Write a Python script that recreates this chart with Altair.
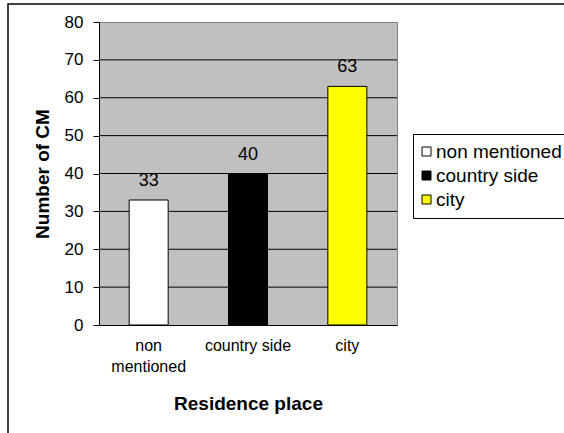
import altair as alt
import pandas as pd

categories = ["non mentioned", "country side", "city"]
counts = [33, 40, 63]
bar_colors = ["#FFFFFF", "#000000", "#FFFF00"]
y_ticks = [0, 10, 20, 30, 40, 50, 60, 70, 80]
grid_values = [10, 20, 30, 40, 50, 60, 70]

df = pd.DataFrame({"place": categories, "count": counts})
grid_df = pd.DataFrame({"v": grid_values})

FONT = "Liberation Sans"

y_scale = alt.Scale(domain=[0, 80], nice=False, zero=True)
y_axis = alt.Axis(
    title="Number of CM", values=y_ticks, grid=False, tickSize=6,
    tickColor="black", domainColor="black", labelFontSize=17, labelPadding=10,
    titleFontSize=19, titleFontWeight="bold", titleX=-57, titleY=151.5,
    titleBaseline="middle", labelColor="black", titleColor="black",
)
x_axis = alt.Axis(
    title="Residence place", labelAngle=0, ticks=False, domainColor="black",
    labelFontSize=16, labelPadding=12, labelLineHeight=21, labelBaseline="top",
    labelExpr="datum.value == 'non mentioned' ? ['non', 'mentioned'] : datum.value",
    titleFontSize=19, titleFontWeight="bold", titleY=78, titleBaseline="middle",
    grid=False, labelColor="black", titleColor="black",
)
x_enc = alt.X("place:N", sort=categories,
              scale=alt.Scale(paddingInner=0, paddingOuter=0), axis=x_axis)

grid = alt.Chart(grid_df).mark_rule(color="black", strokeWidth=1).encode(
    y=alt.Y("v:Q", scale=y_scale, axis=y_axis)
)

bars = alt.Chart(df).mark_bar(size=39, stroke="black", strokeWidth=1).encode(
    x=x_enc,
    y=alt.Y("count:Q", scale=y_scale, axis=y_axis),
    color=alt.Color(
        "place:N", sort=categories,
        scale=alt.Scale(domain=categories, range=bar_colors),
        legend=alt.Legend(
            title=None, orient="none", legendX=314, legendY=112,
            symbolType="square", symbolSize=81, symbolStrokeColor="black",
            symbolStrokeWidth=1, labelFontSize=19, labelFont=FONT,
            labelColor="black", strokeColor="black", fillColor="white",
            padding=8, rowPadding=4, labelOffset=0, symbolOffset=-4,
            cornerRadius=0,
        ),
    ),
)

labels = alt.Chart(df).mark_text(
    dy=-14, fontSize=18, baseline="alphabetic", font=FONT, color="black"
).encode(
    x=x_enc,
    y=alt.Y("count:Q", scale=y_scale, axis=y_axis),
    text="count:Q",
)

frame = alt.Chart(alt.Data(values=[{}])).mark_rect(
    filled=False, stroke="black", strokeWidth=1.5
).encode(
    x=alt.value(-91), x2=alt.value(700), y=alt.value(-18), y2=alt.value(600)
)

chart = alt.layer(grid, bars, labels, frame).properties(
    width=298, height=303,
    padding={"left": 99, "top": 22, "right": 167, "bottom": 108},
    autosize="none", background="white",
).configure_view(
    fill="#C0C0C0", stroke="#808080", strokeWidth=1
).configure_axis(
    labelFont=FONT, titleFont=FONT
).configure_text(font=FONT)

chart.save("out.html", embed_options={"renderer": "svg", "actions": False})
